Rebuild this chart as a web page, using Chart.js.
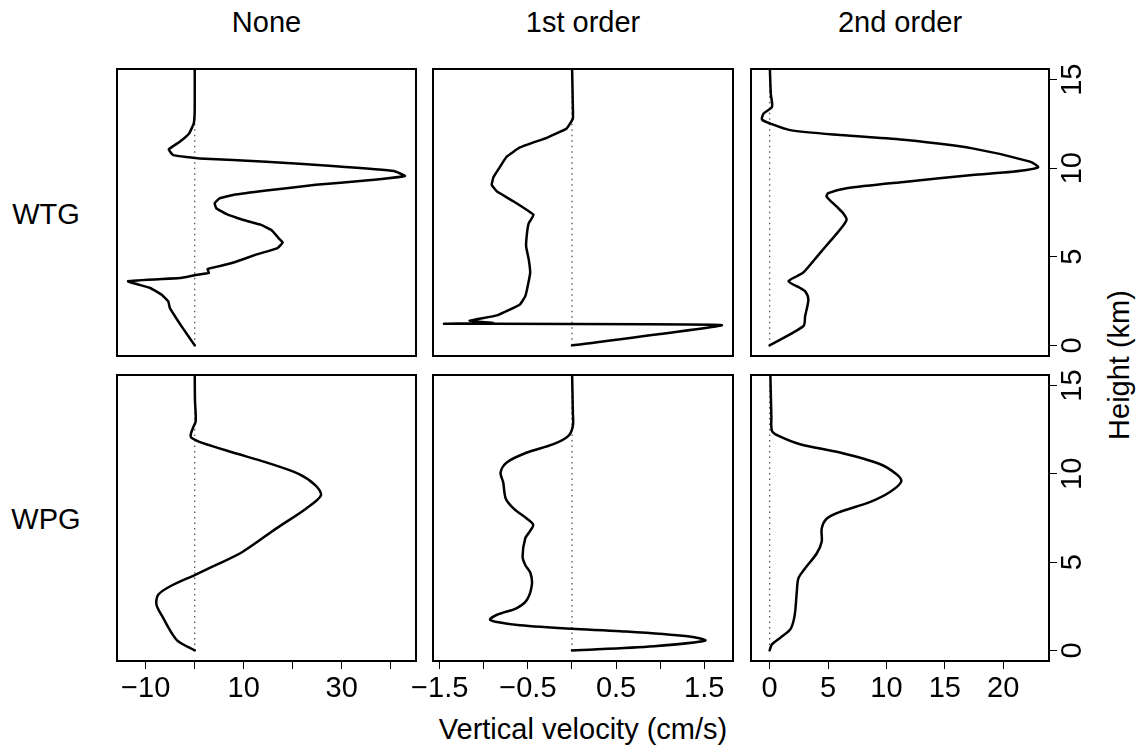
<!DOCTYPE html>
<html><head><meta charset="utf-8">
<script src="https://cdn.jsdelivr.net/npm/chart.js@4.4.1/dist/chart.umd.min.js"></script>
<style>
html,body{margin:0;padding:0;background:#fff;width:1143px;height:753px;overflow:hidden;position:relative;}
canvas{position:absolute;}
.t{position:absolute;font-family:"Liberation Sans",Arial,Helvetica,sans-serif;font-size:29px;color:#000;line-height:1;white-space:nowrap;transform:translate(-50%,-50%);}
</style></head><body>
<div id="labels"></div>
<script>
// ---------------- DATA ----------------
const columnTitles = ['None', '1st order', '2nd order'];
const rowTitles = ['WTG', 'WPG'];
const xAxisTitle = 'Vertical velocity (cm/s)';
const yAxisTitle = 'Height (km)';

// WTG / None
const wtgNoneH = [0,1.0,2.12,2.49,2.87,3.24,3.62,3.8,3.96,4.09,4.31,4.56,4.69,5.12,5.49,5.81,6.0,6.52,6.8,7.09,7.42,7.74,8.03,8.3,8.49,8.74,9.06,9.3,9.56,9.84,10.12,10.37,10.55,10.74,11.06,11.49,11.96,12.52,13.3,16];
const wtgNoneV = [0,-2.5,-5.08,-5.4,-6.8,-9.1,-13.6,-3.05,0,2.9,2.6,6.4,8.1,12.5,16.9,17.95,17.3,15.6,13.55,9.8,6.4,4.4,4.07,5.08,7.8,14.6,24.7,34.9,42.9,40.65,28.1,14.6,1.0,-4.4,-5.3,-3.05,-1.15,-0.2,0,0];
// WTG / 1st order
const wtg1stH = [0,1.14,1.22,1.26,1.40,1.69,2.31,2.77,3.15,4.09,4.84,5.59,6.34,6.9,7.37,8.12,8.68,9.06,9.5,10.09,10.65,11.17,11.73,12.24,12.8,13.46,16];
const wtg1stV = [0,1.70,-1.45,-0.89,-1.16,-0.85,-0.59,-0.53,-0.51,-0.474,-0.49,-0.52,-0.51,-0.49,-0.436,-0.66,-0.85,-0.91,-0.89,-0.815,-0.74,-0.59,-0.28,-0.06,0.01,0.01,0];
// WTG / 2nd order
const wtg2ndH = [0,1.09,1.65,2.59,3.05,3.24,3.62,3.9,4.12,5.21,5.87,6.52,7.09,7.46,7.84,8.4,8.59,8.87,9.24,9.62,9.8,10.05,10.37,11.12,11.59,11.87,12.15,12.52,12.75,13.09,13.46,14.2,16];
const wtg2ndV = [0,2.9,3.04,3.32,3.04,2.61,1.62,2.33,2.9,4.31,5.17,6.02,6.59,6.3,5.73,4.88,5.02,6.59,11.7,17.36,20.77,22.98,22.3,17.36,11.7,6.02,1.76,0.06,-0.65,-0.51,0.2,0.1,0];
// WPG / None
const wpgNoneH = [0,0.52,1.0,1.84,2.59,3.15,3.62,4.27,4.84,5.59,6.9,8.03,8.77,9.34,9.99,10.65,11.21,11.74,12.05,12.24,12.62,12.99,14.2,16];
const wpgNoneV = [0,-3.39,-4.74,-6.44,-7.8,-7.45,-5.08,0,4.4,9.8,16.6,22.7,25.75,24.7,21.3,14.6,7.8,1.7,-0.68,-0.8,-0.33,0.2,0.05,0];
// WPG / 1st order
const wpg1stH = [0,0.24,0.56,0.8,1.09,1.22,1.42,1.61,1.74,2.02,2.4,2.87,3.71,4.37,4.84,5.3,6.34,6.8,7.12,7.46,8.03,8.59,9.52,10.08,10.65,11.21,11.68,12.15,12.71,13.46,16];
const wpg1stV = [0,0.93,1.51,1.31,0.55,0,-0.59,-0.85,-0.93,-0.85,-0.625,-0.51,-0.455,-0.47,-0.53,-0.56,-0.53,-0.47,-0.44,-0.51,-0.66,-0.75,-0.78,-0.81,-0.74,-0.51,-0.21,-0.04,0.01,0.01,0];
// WPG / 2nd order
const wpg2ndH = [0,0.34,0.71,1.18,1.65,2.21,3.34,4.09,4.65,5.49,6.15,6.9,7.46,7.84,8.4,8.96,9.56,9.99,10.56,11.21,11.68,12.15,12.43,13.2,16];
const wpg2ndV = [0,0.2,0.91,1.76,2.04,2.19,2.33,2.47,3.04,4.03,4.46,4.46,4.88,6.02,8.57,10.27,11.27,10.84,9.42,6.02,2.61,0.77,0.2,0.15,0.05];

// zero reference line (dotted)
const zeroLineV = [0, 0];
const heightRange = [0, 15];

// tick values and labels
const xTicksNone = [-10, 0, 10, 20, 30, 40];
const xLabelsNone = ['\u221210', '', '10', '', '30', ''];
const xTicks1st = [-1.5, -1, -0.5, 0, 0.5, 1, 1.5];
const xLabels1st = ['\u22121.5', '', '\u22120.5', '', '0.5', '', '1.5'];
const xTicks2nd = [0, 5, 10, 15, 20];
const xLabels2nd = ['0', '5', '10', '15', '20'];
const yTicks = [0, 5, 10, 15];
const yLabels = ['0', '5', '10', '15'];

// ---------------- LAYOUT / STYLE ----------------
const colLeft = [117, 433, 751], colRight = [416, 733, 1049];
const rowTop = [69, 375], rowBottom = [356, 661];
const PAD = 40, XAXIS_H = 50, YAXIS_W = 50;
const FONT = '"Liberation Sans", Arial, Helvetica, sans-serif';
const TICK_FONT_SIZE = 29;
const tensions = [[0.1, 0.1, 0.25], [0.3, 0.3, 0.3]];

const panelH = [[wtgNoneH, wtg1stH, wtg2ndH], [wpgNoneH, wpg1stH, wpg2ndH]];
const panelV = [[wtgNoneV, wtg1stV, wtg2ndV], [wpgNoneV, wpg1stV, wpg2ndV]];
const colTicks = [xTicksNone, xTicks1st, xTicks2nd];
const colLabels = [xLabelsNone, xLabels1st, xLabels2nd];

function pad4(lo, hi) { const d = hi - lo; return [lo - 0.04 * d, hi + 0.04 * d]; }
const yRange = pad4(heightRange[0], heightRange[1]);
const xRanges = [0, 1, 2].map(c => {
  const all = panelV[0][c].concat(panelV[1][c]);
  return pad4(Math.min(...all), Math.max(...all));
});

const framePlugin = {
  id: 'frame',
  afterDatasetsDraw(chart) {
    const { ctx, chartArea: a } = chart;
    ctx.save();
    ctx.strokeStyle = '#000';
    ctx.lineWidth = 2;
    ctx.strokeRect(a.left, a.top, a.right - a.left, a.bottom - a.top);
    ctx.restore();
  }
};

function makePanel(r, c) {
  const showX = r === 1, showY = c === 2;
  const w = (colRight[c] - colLeft[c]) + 2 * PAD + (showY ? YAXIS_W : 0);
  const h = (rowBottom[r] - rowTop[r]) + 2 * PAD + (showX ? XAXIS_H : 0);
  const cv = document.createElement('canvas');
  cv.width = w; cv.height = h;
  cv.style.width = w + 'px'; cv.style.height = h + 'px';
  cv.style.left = (colLeft[c] - PAD) + 'px';
  cv.style.top = (rowTop[r] - PAD) + 'px';
  document.body.appendChild(cv);

  const curve = panelH[r][c].map((hh, i) => ({ x: panelV[r][c][i], y: hh }));
  const zero = heightRange.map((hh, i) => ({ x: zeroLineV[i], y: hh }));
  const ticksX = colTicks[c], labsX = colLabels[c];

  new Chart(cv, {
    type: 'scatter',
    data: {
      datasets: [
        { data: curve, showLine: true, borderColor: '#000', borderWidth: 2.5, pointRadius: 0,
          tension: tensions[r][c], borderJoinStyle: 'round', borderCapStyle: 'round', order: 0 },
        { data: zero, showLine: true, borderColor: '#555', borderWidth: 1.3, borderDash: [1.5, 4],
          pointRadius: 0, tension: 0, order: 1 }
      ]
    },
    options: {
      responsive: false, animation: false, devicePixelRatio: 1,
      layout: { padding: PAD },
      plugins: { legend: { display: false }, tooltip: { enabled: false } },
      events: [],
      scales: {
        x: {
          type: 'linear', position: 'bottom', display: showX,
          min: xRanges[c][0], max: xRanges[c][1],
          afterBuildTicks: s => { s.ticks = ticksX.map(v => ({ value: v })); },
          afterFit: s => { s.height = showX ? XAXIS_H : 0; },
          grid: { drawOnChartArea: false, drawTicks: true, tickLength: 8, color: '#000', lineWidth: 1 },
          border: { display: false },
          ticks: { autoSkip: false, maxRotation: 0, minRotation: 0, padding: 3, color: '#000',
            font: { family: FONT, size: TICK_FONT_SIZE },
            callback: v => labsX[ticksX.indexOf(v)] }
        },
        y: {
          type: 'linear', position: 'right', display: showY,
          min: yRange[0], max: yRange[1],
          afterBuildTicks: s => { s.ticks = yTicks.map(v => ({ value: v })); },
          afterFit: s => { s.width = showY ? YAXIS_W : 0; },
          grid: { drawOnChartArea: false, drawTicks: true, tickLength: 8, color: '#000', lineWidth: 1 },
          border: { display: false },
          ticks: { autoSkip: false, minRotation: 90, maxRotation: 90, crossAlign: 'center', padding: 0,
            color: '#000', font: { family: FONT, size: TICK_FONT_SIZE },
            callback: v => yLabels[yTicks.indexOf(v)] }
        }
      }
    },
    plugins: [framePlugin]
  });
}

for (let r = 0; r < 2; r++) for (let c = 0; c < 3; c++) makePanel(r, c);

// ---------------- TEXT ----------------
const L = document.getElementById('labels');
function addText(txt, x, y, rot) {
  const d = document.createElement('div');
  d.className = 't';
  d.textContent = txt;
  d.style.left = x + 'px'; d.style.top = y + 'px';
  if (rot) d.style.transform = 'translate(-50%,-50%) rotate(' + rot + 'deg)';
  L.appendChild(d);
}
columnTitles.forEach((t, c) => addText(t, (colLeft[c] + colRight[c]) / 2, 22));
rowTitles.forEach((t, r) => addText(t, 46, (rowTop[r] + rowBottom[r]) / 2 + 1));
addText(xAxisTitle, (colLeft[1] + colRight[1]) / 2, 729);
addText(yAxisTitle, 1119, (rowTop[0] + rowBottom[1]) / 2, -90);
</script>
</body></html>
